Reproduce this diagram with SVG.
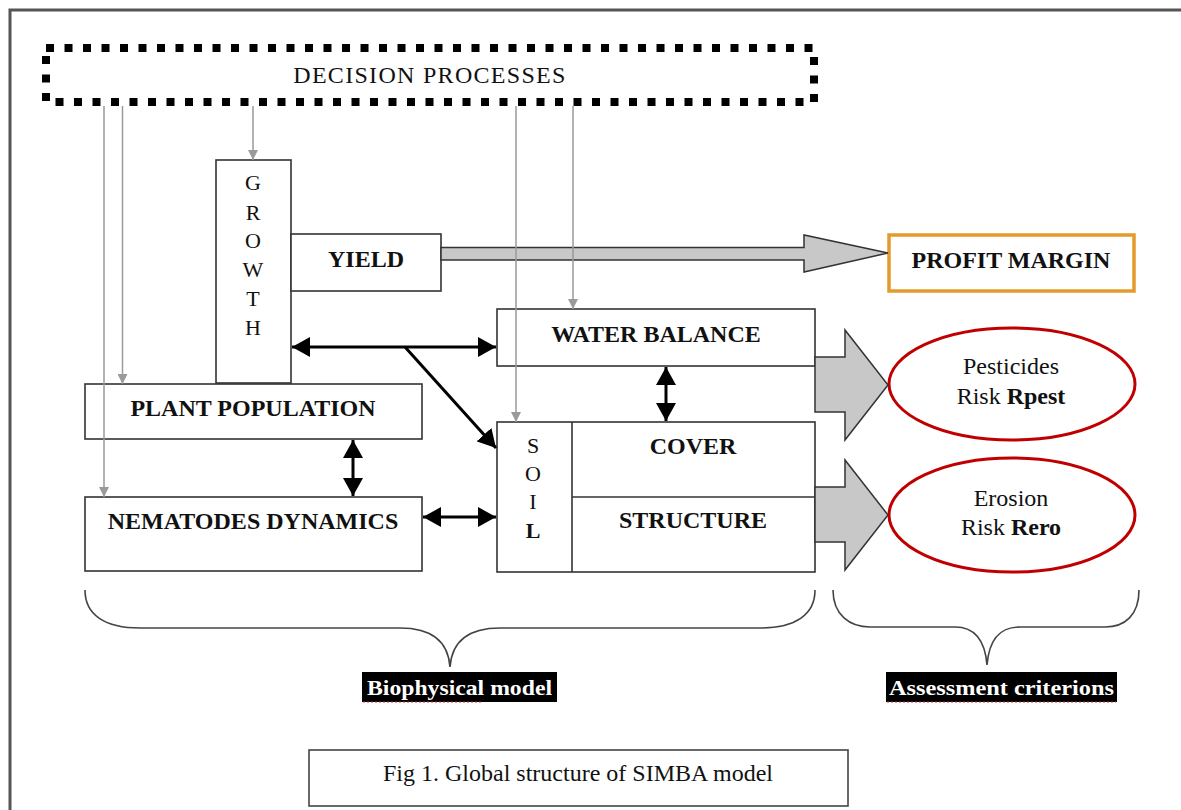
<svg xmlns="http://www.w3.org/2000/svg" width="1181" height="810" viewBox="0 0 1181 810">
<style>
.box{fill:#fff;stroke:#333;stroke-width:1.6}
.lbl{font-family:"Liberation Serif","Times New Roman",serif;font-size:24px;font-weight:bold;fill:#111;text-anchor:middle}
.reg{font-family:"Liberation Serif","Times New Roman",serif;font-size:24px;fill:#111;text-anchor:middle}
.ltr{font-family:"Liberation Serif","Times New Roman",serif;font-size:22px;fill:#111;text-anchor:middle}
.gray{stroke:#9a9a9a;stroke-width:1.5;fill:none}
.blk{stroke:#000;stroke-width:3;fill:none}
.wide{fill:#c8c8c8;stroke:#333;stroke-width:1.5}
.brace{fill:none;stroke:#444;stroke-width:1.6}
.tag{font-family:"Liberation Serif","Times New Roman",serif;font-size:22px;font-weight:bold;fill:#fff;text-anchor:middle}
.spell{stroke:#d03030;stroke-width:1.2;stroke-dasharray:2 2}
</style>
<defs>
<marker id="ah" markerUnits="userSpaceOnUse" viewBox="0 0 18 20" markerWidth="18" markerHeight="20" refX="18" refY="10" orient="auto-start-reverse">
<path d="M0,0 L18,10 L0,20 z" fill="#000"/>
</marker>
<marker id="gh" markerUnits="userSpaceOnUse" viewBox="0 0 10 10" markerWidth="10" markerHeight="10" refX="10" refY="5" orient="auto">
<path d="M0,0 L10,5 L0,10 z" fill="#9a9a9a"/>
</marker>
</defs>
<rect x="10" y="10" width="1200" height="850" fill="#fff" stroke="#555" stroke-width="3"/>

<g id="decision">
<rect x="46" y="48" width="768" height="54" fill="none" stroke="#000" stroke-width="8" stroke-dasharray="8 10.5"/>
<text class="reg" x="430" y="83" letter-spacing="1.3">DECISION PROCESSES</text>
</g>

<g id="growth">
<rect class="box" x="216" y="160" width="75" height="223"/>
<text class="ltr" x="253" y="190">G</text>
<text class="ltr" x="253" y="220">R</text>
<text class="ltr" x="253" y="248">O</text>
<text class="ltr" x="253" y="277">W</text>
<text class="ltr" x="253" y="306">T</text>
<text class="ltr" x="253" y="335">H</text>
</g>

<g id="yield">
<rect class="box" x="291" y="234" width="150" height="57"/>
<text class="lbl" x="366" y="267">YIELD</text>
</g>

<g id="profit">
<rect x="889" y="235" width="245" height="56" fill="#fff" stroke="#e39b2c" stroke-width="3.5"/>
<text class="lbl" x="1011" y="268">PROFIT MARGIN</text>
</g>

<g id="water">
<rect class="box" x="497" y="309" width="318" height="57"/>
<text class="lbl" x="656" y="342">WATER BALANCE</text>
</g>

<g id="soil">
<rect class="box" x="497" y="422" width="318" height="150"/>
<line x1="572" y1="422" x2="572" y2="572" stroke="#333" stroke-width="1.6"/>
<line x1="572" y1="497" x2="815" y2="497" stroke="#333" stroke-width="1.6"/>
<text class="ltr" x="533" y="453">S</text>
<text class="ltr" x="533" y="481">O</text>
<text class="ltr" x="533" y="509">I</text>
<text class="ltr" x="533" y="538" font-weight="bold">L</text>
<text class="lbl" x="693" y="454">COVER</text>
<text class="lbl" x="693" y="528">STRUCTURE</text>
</g>

<g id="plant">
<rect class="box" x="85" y="384" width="337" height="55"/>
<text class="lbl" x="253" y="416">PLANT POPULATION</text>
</g>

<g id="nematodes">
<rect class="box" x="85" y="497" width="337" height="74"/>
<text class="lbl" x="253" y="529">NEMATODES DYNAMICS</text>
</g>

<g id="pesticides">
<ellipse cx="1012" cy="384" rx="123" ry="56" fill="#fff" stroke="#c00000" stroke-width="3"/>
<text class="reg" x="1011" y="374">Pesticides</text>
<text class="reg" x="1011" y="404">Risk <tspan font-weight="bold">Rpest</tspan></text>
</g>

<g id="erosion">
<ellipse cx="1012" cy="515" rx="123" ry="57" fill="#fff" stroke="#c00000" stroke-width="3"/>
<text class="reg" x="1011" y="506">Erosion</text>
<text class="reg" x="1011" y="535">Risk <tspan font-weight="bold">Rero</tspan></text>
</g>

<g id="connectors">
<polygon class="wide" points="441,247.5 804,247.5 804,235 888,253 804,272 804,260 441,260"/>
<polygon class="wide" points="815,357 845,357 845,330 888,385 845,440 845,412 815,412"/>
<polygon class="wide" points="815,487 845,487 845,460 888,515 845,570 845,542 815,542"/>
<line class="gray" x1="104" y1="106" x2="104" y2="497" marker-end="url(#gh)"/>
<line class="gray" x1="122.5" y1="106" x2="122.5" y2="384" marker-end="url(#gh)"/>
<line class="gray" x1="253" y1="106" x2="253" y2="160" marker-end="url(#gh)"/>
<line class="gray" x1="516" y1="106" x2="516" y2="422" marker-end="url(#gh)"/>
<line class="gray" x1="573" y1="106" x2="573" y2="309" marker-end="url(#gh)"/>
<line class="blk" x1="292" y1="347" x2="496" y2="347" marker-start="url(#ah)" marker-end="url(#ah)"/>
<line class="blk" x1="405" y1="347" x2="496" y2="448" marker-end="url(#ah)"/>
<line class="blk" x1="666" y1="367" x2="666" y2="421" marker-start="url(#ah)" marker-end="url(#ah)"/>
<line class="blk" x1="353" y1="440" x2="353" y2="496" marker-start="url(#ah)" marker-end="url(#ah)"/>
<line class="blk" x1="423" y1="517" x2="496" y2="517" marker-start="url(#ah)" marker-end="url(#ah)"/>
</g>

<g id="biophysical">
<path class="brace" d="M85,590 C85,615 105,628 140,628 L400,628 C430,628 448,640 450,667 C452,640 470,628 500,628 L760,628 C795,628 815,615 815,590"/>
<rect x="362" y="672" width="195" height="30" fill="#000"/>
<text class="tag" x="459.5" y="695" textLength="185" lengthAdjust="spacingAndGlyphs">Biophysical model</text>
<line class="spell" x1="363" y1="702" x2="483" y2="702"/>
</g>

<g id="assessment">
<path class="brace" d="M833,590 C833,615 850,627 870,627 L955,627 C975,627 985,640 987,665 C989,640 999,627 1020,627 L1105,627 C1125,627 1139,615 1139,590"/>
<rect x="886" y="672" width="231" height="30" fill="#000"/>
<text class="tag" x="1001.5" y="695" textLength="225" lengthAdjust="spacingAndGlyphs">Assessment criterions</text>
<line class="spell" x1="887" y1="702" x2="1116" y2="702"/>
</g>

<g id="caption">
<rect x="309" y="750" width="539" height="56" fill="#fff" stroke="#444" stroke-width="1.6"/>
<text class="reg" x="578" y="781">Fig 1. Global structure of SIMBA model</text>
</g>
</svg>
